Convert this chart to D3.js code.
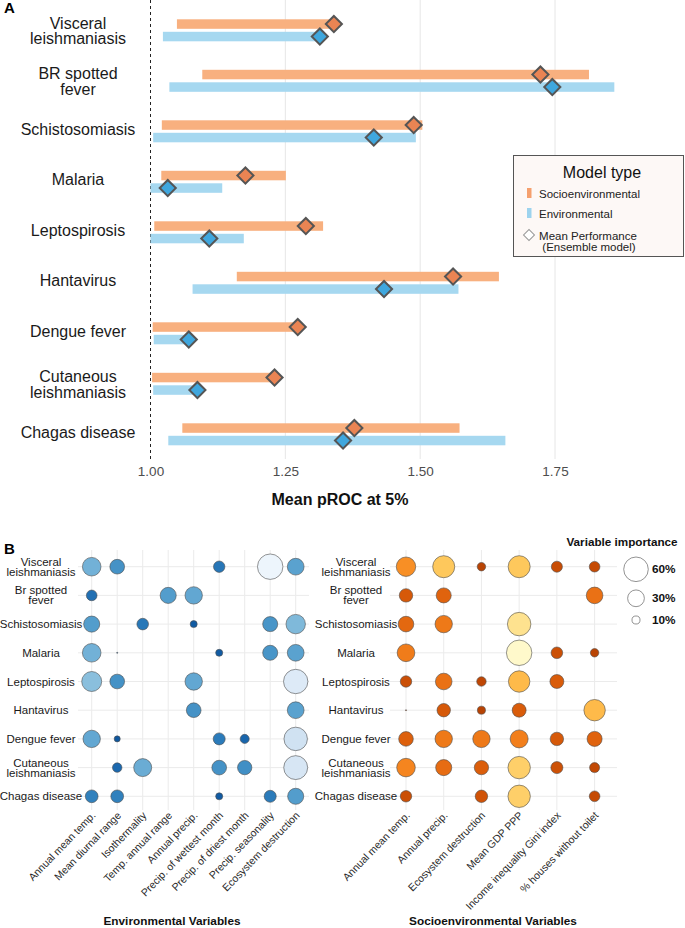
<!DOCTYPE html>
<html><head><meta charset="utf-8">
<script src="https://cdn.jsdelivr.net/npm/d3@7"></script>
<style>
html,body{margin:0;padding:0;background:#fff;}
svg{display:block;font-family:"Liberation Sans",Arial,sans-serif;}
</style></head>
<body><svg id="c" width="685" height="928"></svg>
<script>
// ---------- Panel A data ----------
const diseasesA = ["Visceral leishmaniasis","BR spotted fever","Schistosomiasis","Malaria","Leptospirosis","Hantavirus","Dengue fever","Cutaneous leishmaniasis","Chagas disease"];
const labelsA = [["Visceral","leishmaniasis"],["BR spotted","fever"],["Schistosomiasis"],["Malaria"],["Leptospirosis"],["Hantavirus"],["Dengue fever"],["Cutaneous","leishmaniasis"],["Chagas disease"]];
const socioMin  = [1.049, 1.096, 1.021, 1.020, 1.007, 1.160, 1.004, 1.003, 1.059];
const socioMax  = [1.344, 1.813, 1.504, 1.251, 1.320, 1.646, 1.273, 1.230, 1.573];
const socioMean = [1.340, 1.723, 1.488, 1.176, 1.288, 1.561, 1.273, 1.230, 1.378];
const envMin    = [1.023, 1.035, 1.005, 1.000, 1.000, 1.078, 1.006, 1.005, 1.033];
const envMax    = [1.314, 1.860, 1.492, 1.133, 1.173, 1.571, 1.071, 1.087, 1.658];
const envMean   = [1.314, 1.745, 1.414, 1.032, 1.109, 1.433, 1.071, 1.087, 1.357];
const ticksA = [1.00, 1.25, 1.50, 1.75];

// ---------- Panel B data ----------
const diseasesB = ["Visceral leishmaniasis","Br spotted fever","Schistosomiasis","Malaria","Leptospirosis","Hantavirus","Dengue fever","Cutaneous leishmaniasis","Chagas disease"];
const labelsB = [["Visceral","leishmaniasis"],["Br spotted","fever"],["Schistosomiasis"],["Malaria"],["Leptospirosis"],["Hantavirus"],["Dengue fever"],["Cutaneous","leishmaniasis"],["Chagas disease"]];
const envVars = ["Annual mean temp.","Mean diurnal range","Isothermality","Temp. annual range","Annual precip.","Precip. of wettest month","Precip. of driest month","Precip. seasonality","Ecosystem destruction"];
const socioVars = ["Annual mean temp.","Annual precip.","Ecosystem destruction","Mean GDP PPP","Income inequality Gini index","% houses without toilet"];
// variable importance (%) per disease row (null = not in model)
const envImportance = [
  [36, 24, null, null, null, 16, null, 64, 30],
  [14.5, null, null, 28, 32, null, null, null, null],
  [28, null, 16.5, null, 8.6, null, null, 25, 39],
  [36, 4.1, null, null, null, 8.6, null, 25, 30],
  [41, 24, null, null, 32, null, null, null, 59],
  [null, null, null, null, 24, null, null, null, 30],
  [32, 7.4, null, null, null, 17.4, 11.6, null, 55],
  [null, 12.3, 34, null, null, 24, 23, null, 57],
  [19, 19, null, null, null, 8.6, null, 17.4, 28]
];
const socioImportance = [
  [39, 49, 10.6, 49, 15.3, 14.5],
  [20.7, 25, null, null, null, 29.6],
  [26.6, 32, null, 55, null, null],
  [33, null, null, 64, 16.5, 10.6],
  [16.1, 29.6, 12.3, 46.5, 22, null],
  [4.1, 20.7, 10, 22, null, 46.5],
  [23.8, 32, 32, 34, 20.7, 25],
  [36, 28, 23, 50.5, 17.4, 13.3],
  [16.1, null, 18.3, 50.5, null, 14.5]
];
const legendSizes = [60, 30, 10];

const svg = d3.select("#c");

// ================= Panel A =================
const x = d3.scaleLinear().domain([1, 1.75]).range([150.5, 555]);
const yA = d3.scalePoint().domain(diseasesA).range([30.5, 434.5]);
const gA = svg.append("g");

gA.selectAll("line.grid").data(ticksA.slice(1)).join("line")
  .attr("x1", d => x(d)).attr("x2", d => x(d)).attr("y1", 0).attr("y2", 459)
  .attr("stroke", "#e6e6e6").attr("stroke-width", 1);
gA.append("line").attr("x1", x(1)).attr("x2", x(1)).attr("y1", 0).attr("y2", 460)
  .attr("stroke", "#222").attr("stroke-width", 1).attr("stroke-dasharray", "3,3");

const barH = 9.5;
gA.selectAll("rect.so").data(diseasesA).join("rect")
  .attr("x", (d, i) => x(socioMin[i])).attr("width", (d, i) => x(socioMax[i]) - x(socioMin[i]))
  .attr("y", d => yA(d) - 11.2).attr("height", barH).attr("fill", "#F8B07F");
gA.selectAll("rect.en").data(diseasesA).join("rect")
  .attr("x", (d, i) => x(envMin[i])).attr("width", (d, i) => x(envMax[i]) - x(envMin[i]))
  .attr("y", d => yA(d) + 1.3).attr("height", barH).attr("fill", "#A6D8F0");

const diamond = d3.symbol(d3.symbolSquare, 130)();
gA.selectAll("path.dso").data(diseasesA).join("path")
  .attr("d", diamond)
  .attr("transform", (d, i) => `translate(${x(socioMean[i])},${yA(d) - 6.45}) rotate(45)`)
  .attr("fill", "#EA8453").attr("stroke", "#555").attr("stroke-width", 2);
gA.selectAll("path.den").data(diseasesA).join("path")
  .attr("d", diamond)
  .attr("transform", (d, i) => `translate(${x(envMean[i])},${yA(d) + 6.05}) rotate(45)`)
  .attr("fill", "#3FA7DE").attr("stroke", "#555").attr("stroke-width", 2);

diseasesA.forEach((d, i) => {
  const lines = labelsA[i];
  const lh = 15.5;
  const cy = yA(d) + (lines.length > 1 ? 0.5 : -2.5);
  const t = gA.append("text").attr("text-anchor", "middle").attr("font-size", 16).attr("fill", "#1a1a1a");
  lines.forEach((ln, k) => {
    t.append("tspan").attr("x", 78).attr("y", cy + (k - (lines.length - 1) / 2) * lh).attr("dy", "0.35em").text(ln);
  });
});

const axA = gA.append("g").attr("transform", "translate(0,463)")
  .call(d3.axisBottom(x).tickValues(ticksA).tickFormat(d3.format(".2f")).tickSize(0).tickPadding(3));
axA.select(".domain").remove();
axA.selectAll("text").attr("font-size", 13.5).attr("fill", "#4d4d4d").attr("font-family", "Liberation Sans, Arial, sans-serif");
gA.append("text").attr("x", 340).attr("y", 505).attr("text-anchor", "middle")
  .attr("font-size", 16).attr("font-weight", "bold").attr("fill", "#111").text("Mean pROC at 5%");

svg.append("text").attr("x", 4).attr("y", 13).attr("font-size", 15).attr("font-weight", "bold").text("A");

// legend
const lg = svg.append("g");
lg.append("rect").attr("x", 513.5).attr("y", 155.5).attr("width", 170).attr("height", 101)
  .attr("fill", "#FDF8F6").attr("stroke", "#555").attr("stroke-width", 1);
lg.append("text").attr("x", 602).attr("y", 178).attr("text-anchor", "middle").attr("font-size", 16).attr("fill", "#111").text("Model type");
lg.append("rect").attr("x", 527).attr("y", 188).attr("width", 4.5).attr("height", 10).attr("fill", "#F5A06E");
lg.append("text").attr("x", 539).attr("y", 197.5).attr("font-size", 11.5).attr("fill", "#222").text("Socioenvironmental");
lg.append("rect").attr("x", 527).attr("y", 208).attr("width", 4.5).attr("height", 10).attr("fill", "#9DD3EE");
lg.append("text").attr("x", 539).attr("y", 217.5).attr("font-size", 11.5).attr("fill", "#222").text("Environmental");
lg.append("path").attr("d", d3.symbol(d3.symbolSquare, 60)()).attr("transform", "translate(529,235) rotate(45)")
  .attr("fill", "#fff").attr("stroke", "#999").attr("stroke-width", 1);
lg.append("text").attr("x", 588).attr("y", 240).attr("text-anchor", "middle").attr("font-size", 11.5).attr("fill", "#222").text("Mean Performance");
lg.append("text").attr("x", 589).attr("y", 251).attr("text-anchor", "middle").attr("font-size", 11.5).attr("fill", "#222").text("(Ensemble model)");

// ================= Panel B =================
svg.append("text").attr("x", 4).attr("y", 554).attr("font-size", 15).attr("font-weight", "bold").text("B");
const yB = d3.scalePoint().domain(diseasesB).range([566.7, 796.3]);
const xEnv = d3.scalePoint().domain(envVars).range([91.7, 295.7]);
const xSoc = d3.scalePoint().domain(socioVars).range([406, 594.6]);
const area = d3.scaleLinear().domain([4, 60]).range([0, 151]);
const rad = v => Math.sqrt(Math.max(0, area(v)));
const blueT = d3.scaleLinear().domain([4, 24, 40, 64]).range([0.9, 0.62, 0.44, 0.05]);
const orT = d3.scaleLinear().domain([4, 24, 40, 64]).range([0.85, 0.68, 0.52, 0.08]);

function bubblePanel(xs, vars, imp, x0, x1, colorFn, labelX, title, titleX) {
  const g = svg.append("g");
  g.selectAll("line.v").data(vars).join("line")
    .attr("x1", d => xs(d)).attr("x2", d => xs(d)).attr("y1", 550).attr("y2", 810)
    .attr("stroke", "#ebebeb").attr("stroke-width", 1);
  g.selectAll("line.h").data(diseasesB).join("line")
    .attr("x1", x0).attr("x2", x1).attr("y1", d => yB(d)).attr("y2", d => yB(d))
    .attr("stroke", "#ebebeb").attr("stroke-width", 1);
  const pts = [];
  diseasesB.forEach((d, i) => vars.forEach((v, j) => {
    const val = imp[i][j];
    if (val != null) pts.push({d, v, val});
  }));
  g.selectAll("circle").data(pts).join("circle")
    .attr("cx", p => xs(p.v)).attr("cy", p => yB(p.d)).attr("r", p => rad(p.val))
    .attr("fill", p => colorFn(p.val)).attr("stroke", "#4d4d4d").attr("stroke-width", 0.6);
  diseasesB.forEach((d, i) => {
    const lines = labelsB[i];
    const lh = 10;
    const t = g.append("text").attr("text-anchor", "middle").attr("font-size", 11.5).attr("fill", "#1a1a1a");
    lines.forEach((ln, k) => {
      t.append("tspan").attr("x", labelX).attr("y", yB(d) + (k - (lines.length - 1) / 2) * lh).attr("dy", "0.35em").text(ln);
    });
  });
  g.selectAll("text.col").data(vars).join("text")
    .attr("text-anchor", "end").attr("font-size", 10.5).attr("fill", "#2a2a2a")
    .attr("transform", d => `translate(${xs(d) + 4.5},${816}) rotate(-46)`).text(d => d);
  g.append("text").attr("x", titleX).attr("y", 925).attr("text-anchor", "middle")
    .attr("font-size", 11.8).attr("font-weight", "bold").attr("fill", "#111").text(title);
}
bubblePanel(xEnv, envVars, envImportance, 78, 309, v => d3.interpolateBlues(blueT(v)), 41, "Environmental Variables", 172);
bubblePanel(xSoc, socioVars, socioImportance, 390, 617, v => d3.interpolateYlOrBr(orT(v)), 356, "Socioenvironmental Variables", 493);

// size legend
const sl = svg.append("g");
sl.append("text").attr("x", 622).attr("y", 545.5).attr("text-anchor", "middle").attr("font-size", 11.7).attr("font-weight", "bold").attr("fill", "#111").text("Variable importance");
const legY = [569.3, 598.3, 620];
sl.selectAll("circle").data(legendSizes).join("circle")
  .attr("cx", 636).attr("cy", (d, i) => legY[i]).attr("r", d => rad(d))
  .attr("fill", "#fff").attr("stroke", "#777").attr("stroke-width", 0.8);
sl.selectAll("text.l").data(legendSizes).join("text")
  .attr("x", 652).attr("y", (d, i) => legY[i]).attr("dy", "0.35em").attr("font-size", 11.8).attr("font-weight", "bold").attr("fill", "#111")
  .text(d => d + "%");
</script></body></html>
